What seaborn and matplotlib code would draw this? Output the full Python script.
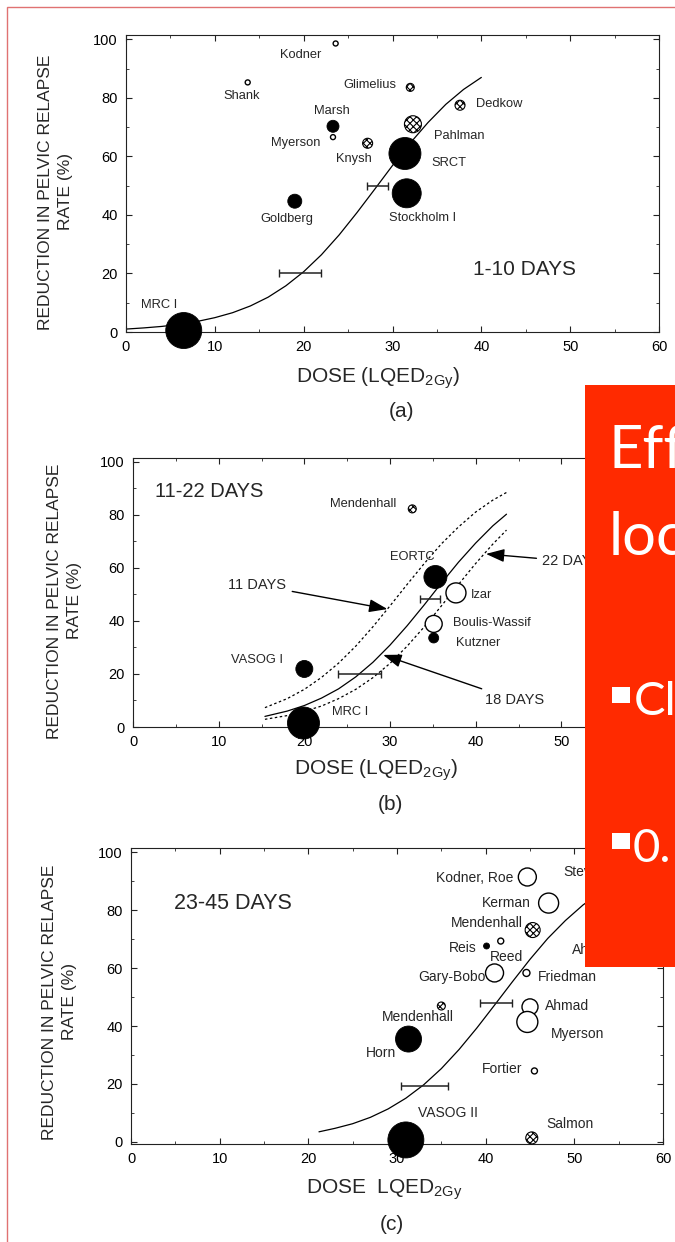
import matplotlib.pyplot as plt
from matplotlib.patches import Rectangle
import seaborn as sns

W, H = 675, 1242

# ---------------- panel (a): 1-10 days ----------------
a_names = ['Kodner', 'Shank', 'Glimelius', 'Marsh', 'Myerson', 'Knysh',
           'Goldberg', 'MRC I', 'SRCT', 'Stockholm I', 'Pahlman', 'Dedkow']
a_dose = [23.6, 13.7, 32.0, 23.3, 23.3, 27.2, 19.0, 6.5, 31.4, 31.6, 32.3, 37.6]
a_reduction = [98.6, 85.3, 83.6, 70.3, 66.6, 64.5, 44.7, 0.5, 61.0, 47.4, 71.0, 77.5]
a_diam = [5, 5, 8, 12, 5, 10, 14, 36, 32, 29, 17, 10]
a_kind = ['open', 'open', 'hatch', 'filled', 'open', 'hatch',
          'filled', 'filled', 'filled', 'filled', 'hatch', 'hatch']
a_label_x = [19.7, 13.0, 27.4, 23.2, 19.1, 25.7, 18.1, 3.7, 36.3, 33.4, 37.5, 42.0]
a_label_y = [94.5, 80.5, 84.3, 75.4, 64.5, 59.0, 38.6, 9.2, 57.7, 38.9, 67.0, 77.8]
a_curve_dose = [0, 2, 4, 6, 8, 10, 12, 14, 16, 18, 20, 22, 24, 26, 28, 30, 32, 34, 36, 38, 40]
a_curve_red = [1.0, 1.4, 1.9, 2.6, 3.6, 4.9, 6.6, 8.9, 11.9, 15.8, 20.6, 26.4, 33.2,
               40.8, 48.8, 56.9, 64.6, 71.6, 77.8, 82.9, 87.0]
a_err_dose = [19.6, 28.3]
a_err_half = [2.4, 1.2]
a_err_red = [20, 50]

# ---------------- panel (b): 11-22 days ----------------
b_names = ['Mendenhall', 'EORTC', 'Izar', 'Boulis-Wassif', 'Kutzner', 'VASOG I', 'MRC I']
b_dose = [32.6, 35.3, 37.7, 35.1, 35.1, 20.0, 19.9]
b_reduction = [82.3, 56.6, 50.6, 38.9, 33.6, 21.9, 1.5]
b_diam = [8, 23, 20, 17, 10, 17, 32]
b_kind = ['hatch', 'filled', 'open', 'open', 'filled', 'filled', 'filled']
b_label_x = [26.9, 32.6, 39.4, 37.4, 37.7, 14.5, 25.3]
b_label_y = [84.2, 64.0, 49.8, 39.3, 31.7, 25.3, 5.7]
b_label_ha = ['center', 'center', 'left', 'left', 'left', 'center', 'center']
b_curve_dose = [15.4, 18, 20, 22, 24, 26, 28, 30, 32, 34, 36, 38, 40, 42, 43.6]
b_curve_11d = [7.3, 10.7, 14.2, 18.7, 24.1, 30.5, 37.8, 45.7, 53.8, 61.7, 69.1, 75.5, 81.1, 85.6, 88.5]
b_curve_18d = [4.0, 6.0, 8.1, 10.9, 14.4, 18.9, 24.4, 30.9, 38.2, 46.1, 54.3, 62.2, 69.4, 75.9, 80.3]
b_curve_22d = [2.9, 4.3, 5.9, 7.9, 10.7, 14.2, 18.6, 24.0, 30.5, 37.8, 45.7, 53.8, 61.7, 69.0, 74.3]
b_err_dose = [26.4, 34.65]
b_err_half = [2.5, 1.15]
b_err_red = [20, 48.3]
b_arrow_text = ['11 DAYS', '18 DAYS', '22 DAYS']
b_arrow_tip_x = [29.7, 29.2, 41.2]
b_arrow_tip_y = [44.5, 27.2, 65.3]
b_arrow_text_x = [14.5, 44.5, 47.8]
b_arrow_text_y = [53.6, 10.2, 62.5]
b_arrow_ha = ['center', 'center', 'left']

# ---------------- panel (c): 23-45 days ----------------
c_names = ['Kodner, Roe', 'Kerman', 'Mendenhall', 'Reis', 'Reed', 'Gary-Bobo', 'Friedman',
           'Ahmad', 'Myerson', 'Mendenhall', 'Horn', 'Fortier', 'VASOG II', 'Salmon']
c_dose = [44.7, 47.1, 45.3, 40.1, 41.7, 41.0, 44.6, 45.0, 44.7, 35.0, 31.3, 45.5, 31.0, 45.2]
c_reduction = [91.4, 82.4, 73.1, 67.6, 69.3, 58.3, 58.3, 46.6, 41.4, 46.9, 35.5, 24.5, 0.7, 1.4]
c_diam = [18, 20, 15, 6, 6, 18, 7, 16, 21, 8, 26, 6, 36, 12]
c_kind = ['open', 'open', 'hatch', 'filled', 'open', 'open', 'open',
          'open', 'open', 'hatch', 'filled', 'open', 'filled', 'hatch']
c_label_x = [43.1, 45.1, 44.2, 39.0, 42.4, 40.0, 45.9, 46.7, 47.3, 32.4, 28.2, 41.9, 35.8, 49.5]
c_label_y = [91.0, 82.4, 75.5, 66.9, 63.8, 56.9, 56.9, 47.0, 37.2, 43.1, 30.7, 25.2, 10.0, 6.2]
c_label_ha = ['right', 'right', 'right', 'right', 'center', 'right', 'left',
              'left', 'left', 'center', 'center', 'center', 'center', 'center']
c_extra_names = ['Stevens', 'Ahmad']
c_extra_x = [48.8, 49.7]
c_extra_y = [93.0, 66.2]
c_curve_dose = [21.2, 23, 25, 27, 29, 31, 33, 35, 37, 39, 41, 43, 45, 47, 49, 51, 53, 55]
c_curve_red = [3.5, 4.7, 6.3, 8.5, 11.4, 15.1, 19.7, 25.3, 31.9, 39.3, 47.2, 55.2,
               63.0, 70.2, 76.4, 81.8, 86.1, 89.5]
c_err_dose = [33.1, 41.2]
c_err_half = [2.7, 1.8]
c_err_red = [19.2, 47.9]

YLABEL = 'REDUCTION IN PELVIC RELAPSE\nRATE (%)'

sns.set_style('ticks')
plt.rcParams['font.family'] = ['Liberation Sans', 'DejaVu Sans']
plt.rcParams['mathtext.fontset'] = 'custom'
plt.rcParams['mathtext.rm'] = 'Liberation Sans'
plt.rcParams['hatch.linewidth'] = 0.8
plt.rcParams['axes.edgecolor'] = '#222222'

STYLES = {
    'filled': dict(facecolor='black', edgecolor='black', linewidth=0.6),
    'open': dict(facecolor='white', edgecolor='black', linewidth=1.0),
    'hatch': dict(facecolor='white', edgecolor='black', linewidth=0.8, hatch='xxxxx'),
}


def fx(x):
    return x / W


def fy(y):
    return 1 - y / H


def rect(left, right, top, bottom):
    return [fx(left), fy(bottom), (right - left) / W, (bottom - top) / H]


def area(d):
    # marker diameter in pixels -> scatter size in points^2
    return (d * 0.72) ** 2


def setup_axes(ax, ylim):
    ax.set_xlim(0, 60)
    ax.set_ylim(*ylim)
    ax.set_xticks(range(0, 61, 10))
    ax.set_yticks(range(0, 101, 20))
    ax.set_xticks(range(0, 61, 5), minor=True)
    ax.set_yticks(range(0, 101, 10), minor=True)
    ax.tick_params(which='both', direction='in', top=True, right=True,
                   labelsize=10.5, pad=6, colors='#222222', labelcolor='black')
    ax.tick_params(which='major', length=4)
    ax.tick_params(which='minor', length=2.5)
    for sp in ax.spines.values():
        sp.set_visible(True)
        sp.set_linewidth(0.8)
    ax.set_xlabel('')
    ax.set_ylabel('')


def draw_points(ax, dose, red, diam, kind):
    for k, style in STYLES.items():
        idx = [i for i, v in enumerate(kind) if v == k]
        if not idx:
            continue
        sns.scatterplot(x=[dose[i] for i in idx], y=[red[i] for i in idx],
                        s=[area(diam[i]) for i in idx], ax=ax, legend=False,
                        clip_on=False, zorder=3, **style)


def draw_labels(ax, names, xs, ys, has, size):
    for n, x, y, ha in zip(names, xs, ys, has):
        ax.text(x, y, n, ha=ha, va='center', fontsize=size, zorder=4)


def draw_err(ax, xs, half, ys):
    ax.errorbar(xs, ys, xerr=half, fmt='none', ecolor='#222222',
                elinewidth=1.1, capsize=3, capthick=1.0, zorder=2)


fig = plt.figure(figsize=(W / 100, H / 100), dpi=100)

# ---- (a)
ax_a = fig.add_axes(rect(126, 659, 35, 332))
setup_axes(ax_a, (0, 101.5))
sns.lineplot(x=a_curve_dose, y=a_curve_red, ax=ax_a, color='black', linewidth=0.9,
             sort=False, estimator=None, zorder=2)
draw_err(ax_a, a_err_dose, a_err_half, a_err_red)
draw_points(ax_a, a_dose, a_reduction, a_diam, a_kind)
draw_labels(ax_a, a_names, a_label_x, a_label_y, ['center'] * len(a_names), 9.3)
ax_a.text(44.9, 21.2, '1-10 DAYS', ha='center', va='center', fontsize=15)

# ---- (b)
ax_b = fig.add_axes(rect(133, 647, 458, 727))
setup_axes(ax_b, (0, 101.5))
sns.lineplot(x=b_curve_dose, y=b_curve_18d, ax=ax_b, color='black', linewidth=0.9,
             sort=False, estimator=None, zorder=2)
for curve in (b_curve_11d, b_curve_22d):
    sns.lineplot(x=b_curve_dose, y=curve, ax=ax_b, color='black', linewidth=0.9,
                 linestyle=(0, (2, 2)), sort=False, estimator=None, zorder=2)
draw_err(ax_b, b_err_dose, b_err_half, b_err_red)
draw_points(ax_b, b_dose, b_reduction, b_diam, b_kind)
draw_labels(ax_b, b_names, b_label_x, b_label_y, b_label_ha, 9.3)
for t, tx, ty, lx, ly, ha in zip(b_arrow_text, b_arrow_tip_x, b_arrow_tip_y,
                                 b_arrow_text_x, b_arrow_text_y, b_arrow_ha):
    ax_b.annotate(t, xy=(tx, ty), xytext=(lx, ly), ha=ha, va='center', fontsize=10.5,
                  arrowprops=dict(arrowstyle='-|>,head_length=0.7,head_width=0.25',
                                  color='black', lw=1.0, mutation_scale=16, shrinkB=0))
ax_b.text(2.6, 88.7, '11-22 DAYS', ha='left', va='center', fontsize=14.5)

# ---- (c)
ax_c = fig.add_axes(rect(131, 663, 848, 1144))
setup_axes(ax_c, (-0.7, 101.4))
sns.lineplot(x=c_curve_dose, y=c_curve_red, ax=ax_c, color='black', linewidth=0.9,
             sort=False, estimator=None, zorder=2)
draw_err(ax_c, c_err_dose, c_err_half, c_err_red)
draw_points(ax_c, c_dose, c_reduction, c_diam, c_kind)
draw_labels(ax_c, c_names, c_label_x, c_label_y, c_label_ha, 10)
draw_labels(ax_c, c_extra_names, c_extra_x, c_extra_y, ['left'] * 2, 10)
ax_c.text(4.8, 82.4, '23-45 DAYS', ha='left', va='center', fontsize=15.5)

# ---- axis titles and panel letters
for (x, y) in [(55.5, 192), (64.5, 601), (59.5, 1002)]:
    fig.text(fx(x), fy(y), YLABEL, rotation=90, ha='center', va='center',
             multialignment='center', fontsize=12.5, linespacing=1.45)
for (x, y), s in zip([(378, 378), (376, 770), (384, 1190)],
                     [r'DOSE (LQED$_{\mathrm{2Gy}}$)', r'DOSE (LQED$_{\mathrm{2Gy}}$)',
                      r'DOSE  LQED$_{\mathrm{2Gy}}$']):
    fig.text(fx(x), fy(y), s, ha='center', va='center', fontsize=15)
for (x, y), s in zip([(402, 412), (390, 805), (392, 1225)], ['(a)', '(b)', '(c)']):
    fig.text(fx(x), fy(y), s, ha='center', va='center', fontsize=15)

# ---- slide frame and red overlay box (its text runs off the slide edge as in the source)
fig.add_artist(Rectangle((fx(7), -0.01), 1.1, 1.01 - 7 / H, transform=fig.transFigure,
                         fill=False, edgecolor='#e07272', linewidth=1.0, zorder=19))
fig.add_artist(Rectangle((fx(585), fy(967)), 100 / W, (967 - 385) / H,
                         transform=fig.transFigure, facecolor='#ff2a00',
                         edgecolor='none', zorder=20))
for (x, y), s in zip([(608, 468), (609, 555)], ['Eff', 'loc']):
    fig.text(fx(x), fy(y), s, ha='left', va='baseline', fontsize=43,
             family=['Lato', 'DejaVu Sans'], color='white', zorder=21)
for (x, y), s in zip([(634, 715), (633, 862)], ['Cl', '0.']):
    fig.text(fx(x), fy(y), s, ha='left', va='baseline', fontsize=34,
             family=['Lato', 'DejaVu Sans'], color='white', zorder=21)
for top in (687, 833):
    fig.add_artist(Rectangle((fx(612), fy(top + 16)), 18 / W, 16 / H,
                             transform=fig.transFigure, facecolor='white',
                             edgecolor='none', zorder=21))

fig.savefig('out.png', dpi=100)
